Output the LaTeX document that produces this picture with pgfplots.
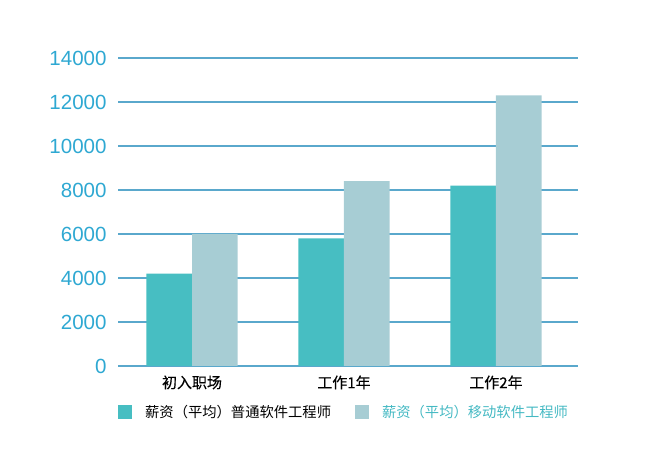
\documentclass[border=0pt]{standalone}
\usepackage{pgfplots}
\pgfplotsset{compat=1.18}
\usepackage{fontspec}
\setmainfont{Liberation Sans}
\newfontfamily\cjk{Noto Sans CJK SC}
\newfontfamily\cjkm[FakeBold=0.5]{Noto Sans CJK SC}

\definecolor{barA}{HTML}{47BEC2}
\definecolor{barB}{HTML}{A7CDD4}
\definecolor{gridc}{HTML}{5AA8CC}
\definecolor{tickc}{HTML}{2EA8D2}
\definecolor{legc}{HTML}{45B9C3}

\begin{document}
\begin{tikzpicture}[x=1pt,y=1pt]
\path[use as bounding box] (0,0) rectangle (648,449);
\begin{axis}[
    at={(118pt,83pt)},
    anchor=south west,
    scale only axis,
    width=460pt,
    height=308pt,
    ymin=0, ymax=14000,
    xmin=-0.487, xmax=2.54,
    ytick={0,2000,...,14000},
    xtick=data,
    xticklabels={初入职场,工作1年,工作2年},
    x tick label style={font=\cjkm\fontsize{15}{18}\selectfont, yshift=-6pt},
    y tick label style={font=\fontsize{20.5}{24}\selectfont, text=tickc},
    /pgf/number format/assume math mode=true,
    scaled y ticks=false,
    yticklabel style={/pgf/number format/1000 sep={}},
    yticklabel shift=8pt,
    major tick length=0pt,
    axis line style={draw=none},
    ymajorgrids,
    y grid style={color=gridc, line width=1.4pt},
    ybar,
    bar width=0.3,
    legend columns=2,
    legend style={draw=none, fill=none, at={(0,-0.149)}, anchor=west,
        inner sep=0pt, font=\cjk\fontsize{14.3}{17}\selectfont,
        /tikz/every even column/.append style={column sep=24pt},
        nodes={inner xsep=0pt}},
    legend image code/.code={%
        \fill[#1] (0pt,-7pt) rectangle (14pt,7pt);
        \path (27pt,0pt);},
]
\addplot[fill=barA, draw=none, bar shift=-0.15] coordinates {
    (0,4200) (1,5800) (2,8200)
};
\addlegendentry{薪资（平均）普通软件工程师}
\addplot[fill=barB, draw=none, bar shift=0.15] coordinates {
    (0,6000) (1,8400) (2,12300)
};
\addlegendentry{\textcolor{legc}{薪资（平均）移动软件工程师}}
\end{axis}
\end{tikzpicture}
\end{document}
